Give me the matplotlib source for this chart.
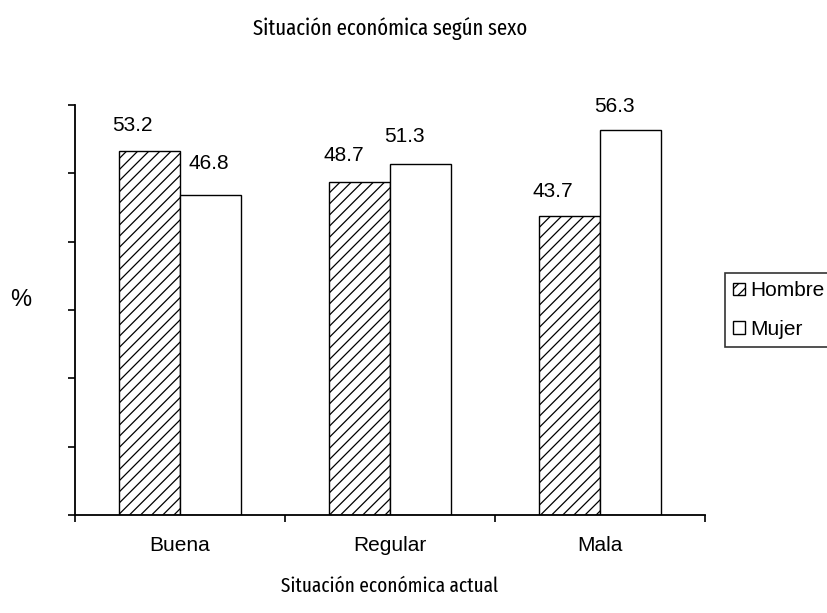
import os
import re
import matplotlib
matplotlib.use("Agg")
import matplotlib.pyplot as plt
import numpy as np
from matplotlib.patches import Patch
from matplotlib import font_manager

# Data
categories = ["Buena", "Regular", "Mala"]
hombre = [53.2, 48.7, 43.7]
mujer = [46.8, 51.3, 56.3]
series_names = ["Hombre", "Mujer"]

title_text = "Situación económica según sexo"
xlabel_text = "Situación económica actual"
ylabel_text = "%"

# Label offsets (pixels) relative to the top centre of each bar
hombre_label_offsets = [(-17, 26), (-16, 27), (-17, 25)]
mujer_label_offsets = [(-2, 32), (-16, 28), (-16, 24)]

plt.rcParams["hatch.linewidth"] = 0.9
plt.rcParams["font.family"] = ["Liberation Sans", "DejaVu Sans"]


def condensed_font():
    """Pick a regular-weight narrow/condensed face if one is installed."""
    prefs = ["ExtraCondensed", "Narrow", "Condensed", "SemiCondensed"]
    found = {}
    for f in font_manager.fontManager.ttflist:
        base = os.path.basename(f.fname)
        m = re.search(r"[-_]?(ExtraCondensed|SemiCondensed|Condensed|Narrow)(-Regular)?\.(ttf|otf)$", base)
        if m and not re.search(r"Bold|Italic|Oblique|Light|Thin|Black|Medium", base):
            found.setdefault(m.group(1), f.fname)
    for p in prefs:
        if p in found:
            return font_manager.FontProperties(fname=found[p])
    return font_manager.FontProperties(family="DejaVu Sans", stretch="condensed")


narrow = condensed_font()

W, H = 828, 613
fig = plt.figure(figsize=(W / 100, H / 100), dpi=100)
ax = fig.add_axes([75 / W, 1 - 515 / H, 630 / W, 410 / H])

x = np.arange(len(categories))
bw = 0.29
b1 = ax.bar(x - bw / 2, hombre, bw, facecolor="white", edgecolor="black",
            hatch="///", linewidth=1.0, label=series_names[0])
b2 = ax.bar(x + bw / 2, mujer, bw, facecolor="white", edgecolor="black",
            linewidth=1.0, label=series_names[1])

for bars, vals, offs in ((b1, hombre, hombre_label_offsets),
                         (b2, mujer, mujer_label_offsets)):
    for rect, v, (dx, dy) in zip(bars, vals, offs):
        ax.annotate(f"{v:.1f}", (rect.get_x() + rect.get_width() / 2, v),
                    xytext=(dx * 0.72, dy * 0.72), textcoords="offset points",
                    ha="center", va="center", fontsize=15)

ax.set_xlim(-0.5, len(categories) - 0.5)
ax.set_ylim(0, 60)
ax.set_yticks(np.arange(0, 61, 10))
ax.set_yticklabels([])
ax.set_xticks(np.arange(-0.5, len(categories), 1.0))
ax.set_xticklabels([])
ax.set_xticks(x, minor=True)
ax.set_xticklabels(categories, minor=True, fontsize=15)
ax.tick_params(axis="x", which="minor", length=0, pad=15)
ax.tick_params(axis="x", which="major", direction="out", length=5, width=1.2)
ax.tick_params(axis="y", direction="out", length=5, width=1.2)

for s in ("top", "right"):
    ax.spines[s].set_visible(False)
for s in ("left", "bottom"):
    ax.spines[s].set_linewidth(1.3)

# Titles in a condensed face
t = fig.text(390 / W, 1 - 29 / H, title_text, ha="center", va="center",
             fontproperties=narrow)
t.set_fontsize(22)
xl = fig.text(390 / W, 1 - 586 / H, xlabel_text, ha="center", va="center",
              fontproperties=narrow)
xl.set_fontsize(20)
fig.text(21 / W, 1 - 300 / H, ylabel_text, ha="center", va="center", fontsize=17)

# Keep the titles within their widths
fig.canvas.draw()
r = fig.canvas.get_renderer()
for txt, target in ((t, 276), (xl, 216)):
    w = txt.get_window_extent(r).width
    if w > target:
        txt.set_fontsize(txt.get_fontsize() * target / w)

handles = [Patch(facecolor="white", edgecolor="black", hatch="///", linewidth=1.0),
           Patch(facecolor="white", edgecolor="black", linewidth=1.0)]
leg = fig.legend(handles, series_names, loc="upper left",
                 bbox_to_anchor=(725 / W, 1 - 347 / H, 0.2, 74 / H),
                 mode="expand", fontsize=15, frameon=True, fancybox=False,
                 edgecolor="black", handlelength=0.55, handleheight=0.55,
                 handletextpad=0.25, labelspacing=0.95, borderpad=0.4,
                 borderaxespad=0)
leg.get_frame().set_linewidth(1.2)

fig.savefig("out.png", dpi=100)
